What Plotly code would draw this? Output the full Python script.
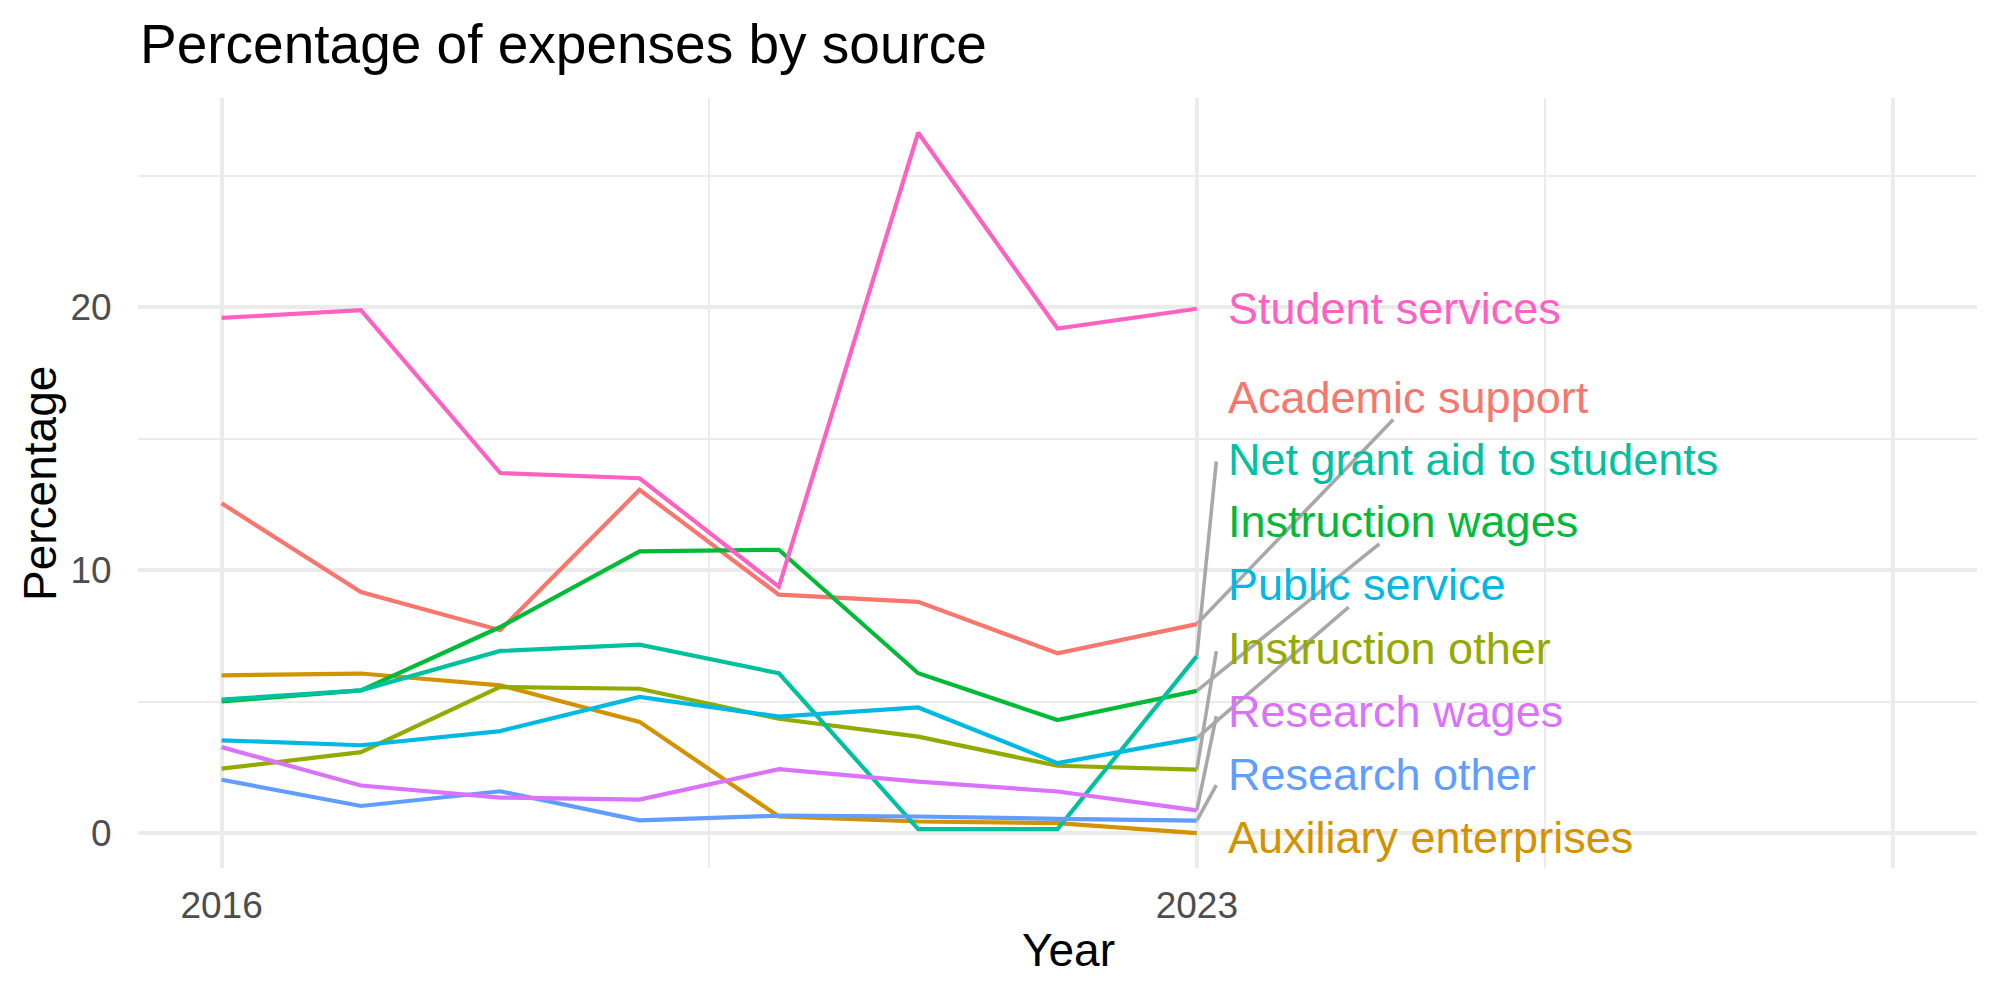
import plotly.graph_objects as go

years = [2016, 2017, 2018, 2019, 2020, 2021, 2022, 2023]

categories = [
    "Academic support",
    "Auxiliary enterprises",
    "Instruction other",
    "Instruction wages",
    "Net grant aid to students",
    "Public service",
    "Research other",
    "Research wages",
    "Student services",
]

academic_support = [12.55, 9.17, 7.72, 13.06, 9.07, 8.80, 6.84, 7.95]
auxiliary_enterprises = [6.00, 6.07, 5.62, 4.23, 0.63, 0.44, 0.38, 0.00]
instruction_other = [2.45, 3.08, 5.56, 5.49, 4.35, 3.67, 2.56, 2.41]
instruction_wages = [5.01, 5.43, 7.84, 10.72, 10.78, 6.08, 4.30, 5.41]
net_grant_aid = [5.08, 5.43, 6.93, 7.17, 6.08, 0.15, 0.15, 6.73]
public_service = [3.53, 3.34, 3.88, 5.18, 4.43, 4.78, 2.66, 3.61]
research_other = [2.03, 1.03, 1.59, 0.48, 0.66, 0.63, 0.54, 0.47]
research_wages = [3.27, 1.81, 1.35, 1.27, 2.43, 1.96, 1.58, 0.86]
student_services = [19.60, 19.90, 13.70, 13.50, 9.37, 26.65, 19.20, 19.95]

series = [academic_support, auxiliary_enterprises, instruction_other,
          instruction_wages, net_grant_aid, public_service,
          research_other, research_wages, student_services]

colors = ["#F8766D", "#D39200", "#93AA00", "#00BA38", "#00C19F",
          "#00B9E3", "#619CFF", "#DB72FB", "#FF61C3"]

# repelled label positions (y, data units) and where each connector meets its label
label_x = 2023.21
label_y = {
    "Student services": 19.95,
    "Academic support": 16.59,
    "Net grant aid to students": 14.21,
    "Instruction wages": 11.85,
    "Public service": 9.45,
    "Instruction other": 7.04,
    "Research wages": 4.64,
    "Research other": 2.23,
    "Auxiliary enterprises": -0.17,
}
# ("bottom", x offset from label start) or ("left", y offset below label centre)
connector = {
    "Academic support": ("bottom", 1.20),
    "Net grant aid to students": ("left", 0.07),
    "Instruction wages": ("bottom", 1.10),
    "Public service": ("bottom", 0.88),
    "Instruction other": ("left", 0.12),
    "Research wages": ("left", 0.19),
    "Research other": ("left", 0.41),
}

FONT = "Liberation Sans, Arial, Helvetica, sans-serif"

fig = go.Figure()

for name, vals, col in zip(categories, series, colors):
    fig.add_trace(go.Scatter(
        x=years, y=vals, mode="lines", name=name,
        line=dict(color=col, width=4.2), showlegend=False,
    ))

# connector segments
for name, vals in zip(categories, series):
    if name not in connector:
        continue
    side, off = connector[name]
    if side == "bottom":
        ex, ey = label_x + off, label_y[name] - 0.85
    else:
        ex, ey = label_x - 0.07, label_y[name] - off
    fig.add_trace(go.Scatter(
        x=[years[-1], ex], y=[vals[-1], ey], mode="lines",
        line=dict(color="#A8A8A8", width=3.6), showlegend=False,
        hoverinfo="skip",
    ))

annotations = []
for name, col in zip(categories, colors):
    annotations.append(dict(
        x=label_x, y=label_y[name], xref="x", yref="y",
        text=name, showarrow=False, xanchor="left", yanchor="middle",
        font=dict(family=FONT, size=45, color=col),
    ))

annotations.append(dict(
    x=0.506, y=-0.1065, xref="paper", yref="paper", text="Year",
    showarrow=False, xanchor="center", yanchor="middle",
    font=dict(family=FONT, size=46, color="black"),
))
annotations.append(dict(
    x=-0.0533, y=0.5, xref="paper", yref="paper", text="Percentage",
    showarrow=False, xanchor="center", yanchor="middle", textangle=-90,
    font=dict(family=FONT, size=46, color="black"),
))

fig.update_layout(
    width=2000, height=1000,
    margin=dict(l=138, r=23, t=98, b=132),
    paper_bgcolor="white", plot_bgcolor="white",
    title=dict(
        text="Percentage of expenses by source",
        x=140 / 2000, xref="container", xanchor="left",
        y=1 - 44 / 1000, yref="container", yanchor="middle",
        font=dict(family=FONT, size=55, color="black"),
    ),
    annotations=annotations,
    showlegend=False,
    xaxis=dict(
        range=[2015.4, 2028.6],
        tickvals=[2016, 2023, 2028], ticktext=["2016", "2023", ""],
        showgrid=True, gridcolor="#EBEBEB", gridwidth=3.6,
        minor=dict(tickvals=[2019.5, 2025.5], showgrid=True,
                   gridcolor="#EBEBEB", gridwidth=1.8),
        zeroline=False, showline=False,
        ticks="outside", ticklen=5, tickcolor="rgba(0,0,0,0)",
        tickfont=dict(family=FONT, size=37, color="#4D4D4D"),
    ),
    yaxis=dict(
        range=[-1.33, 27.97],
        tickvals=[0, 10, 20],
        showgrid=True, gridcolor="#EBEBEB", gridwidth=3.6,
        minor=dict(tickvals=[5, 15, 25], showgrid=True,
                   gridcolor="#EBEBEB", gridwidth=1.8),
        zeroline=False, showline=False,
        ticks="outside", ticklen=18, tickcolor="rgba(0,0,0,0)",
        tickfont=dict(family=FONT, size=37, color="#4D4D4D"),
    ),
)

fig.write_html("out.html")
